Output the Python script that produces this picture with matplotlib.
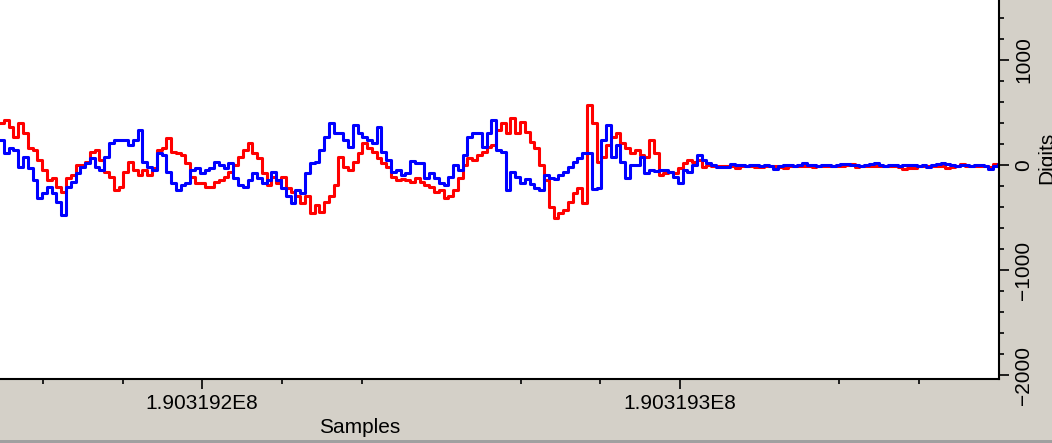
import matplotlib
matplotlib.use("Agg")
import matplotlib.pyplot as plt
import numpy as np
from matplotlib.ticker import FixedLocator, FixedFormatter
from matplotlib.patches import Rectangle

# ---- data ----
first_sample = 190319158

red = [
    397, 430, 365, 270, 397, 302, 160, 143, 48, -47,
    -142, -126, -205, -253, -126, -95, 0, 0, 32, 127,
    143, 48, -63, -110, -237, -205, -63, 32, -47, -95,
    -47, -95, -31, 143, 160, 254, 127, 111, 95, 16,
    -110, -174, -174, -205, -205, -158, -142, -110, -63, 0,
    80, 143, 207, 111, 64, -79, -190, -110, -174, -110,
    -221, -253, -300, -364, -300, -459, -380, -443, -348, -300,
    -190, 80, -15, -47, 32, 111,
    207, 160, 127, 64,
    16, -15, -110, -142, -136, -142, -158, -126, -158, -190,
    -205, -253, -237, -316, -300, -237, -126, 0, 64, 48,
    95, 127, 175, 191, 333, 397, 302, 444, 302, 412,
    317, 222, 160, 0, -142, -396, -507, -459, -427, -348,
    -269, -221, -364, 571, 397, 32, 80, 191, 270, 302,
    207, 160, 111, 143, 95, 80, 238, 111, -95, -79,
    -63, -79, -31, 16, 48, 32, 48,
    -16, 0, -10, -10, -5, -10, -10, -25, -10, -5,
    -10, -20, -20, -10, -5, -10, -15, -25, -10, -5,
    -10, -5, -10, -20, -10, -5, -5, -10, -10, -5,
    0, 10, -20, -10, -5, -10, -5, -10, -10, -5,
    -10, -20, -35, -25, -30, -10, -5, -10, -10, -5,
    -10, -30, -15, -5, 10, -5, -10, -10, -5, -10,
    -15, 5, -5,
]

blue = [
    238, 111, 160, 143, -15, 80, -31, -142, -316, -269,
    -205, -269, -348, -475, -205, -158, -79, -15, 16, 64,
    -15, -47, 80, 207, 238, 238, 238, 191, 238, 333,
    32, -15, -47, 111, 95, -63, -174, -237, -190, -174,
    -47, -31, -79, -47, -31, 32, 0, -31, 16, -126,
    -190, -205, -142, -79, -126, -174, -142, -63, -142, -221,
    -300, -364, -237, -269, -79, 16, 32, 143, 270, 397,
    302, 302, 238, 175, 381, 302,
    270, 238, 207, 365,
    127, 48, -63, -47, -95, -79, 42, 23, 16, -126,
    -79, -126, -174, -190, -117, 0, -47, 95, 270, 302,
    308, 175, 302, 428, 143, 127, -237, -63, -110, -174,
    -136, -180, -221, -237, -95, -126, -136, -95, -63, -15,
    32, 64, 111, 111, -231, -221, 238, 381, 80, 191,
    32, -126, 0, 0, 80, -79, -47, -53, -47, -47,
    -63, -117, -167, -47, -70, 0, 95,
    47, 16, 0, -16, -16, -16, 10, 0, 0, -5,
    0, 0, -5, 0, -10, -35, -5, 0, 0, -5,
    0, 15, 0, 0, -5, 0, 0, -5, 0, 5,
    10, 0, 0, -5, 0, 5, 15, 0, -5, 0,
    0, -5, 0, 0, 0, -5, 0, -15, 0, 5,
    15, 5, 0, -5, 0, 0, -5, 0, 0, -10,
    -35, -10, 5,
]

x_major = [190319200, 190319300]
x_major_labels = ["1.903192E8", "1.903193E8"]
x_minor = [190319166.67, 190319183.33, 190319216.67, 190319233.33,
           190319266.67, 190319283.33, 190319333.33, 190319350.0]
y_major = [-2000, -1000, 0, 1000]
y_minor = list(range(-2000, 1600, 200))
x_label = "Samples"
y_label = "Digits"

# ---- figure ----
plt.rcParams["font.family"] = ["Liberation Sans", "DejaVu Sans"]
W, H = 1052, 443
fig = plt.figure(figsize=(W / 100, H / 100), dpi=100, facecolor="#d4d0c8")
ax = fig.add_axes([0, 64 / H, 999 / W, 379 / H])
ax.set_facecolor("white")

samples_r = first_sample + np.arange(len(red))
samples_b = first_sample + np.arange(len(blue))
ax.plot(samples_r, red, color="#ff0000", lw=2.2, drawstyle="steps-mid")
ax.plot(samples_b, blue, color="#0000ff", lw=2.2, drawstyle="steps-mid")

ax.set_xlim(190319157.7, 190319366.7)
ax.set_ylim(-2038, 1571)

for s in ("left", "top"):
    ax.spines[s].set_visible(False)
for s in ("right", "bottom"):
    ax.spines[s].set_linewidth(1.5)
    ax.spines[s].set_color("black")

ax.yaxis.tick_right()
ax.xaxis.set_major_locator(FixedLocator(x_major))
ax.xaxis.set_major_formatter(FixedFormatter(x_major_labels))
ax.xaxis.set_minor_locator(FixedLocator(x_minor))
ax.yaxis.set_major_locator(FixedLocator(y_major))
ax.yaxis.set_minor_locator(FixedLocator(y_minor))

ax.tick_params(which="major", length=7, width=1.2, direction="out",
               labelsize=15, colors="black")
ax.tick_params(which="minor", length=3.5, width=1.2, direction="out")
ax.tick_params(axis="x", pad=4)
ax.tick_params(axis="y", labelrotation=90, pad=4)
for lbl in ax.get_yticklabels():
    lbl.set_va("center")

fig.text(360 / W, (H - 433) / H, x_label, ha="center", va="baseline",
         fontsize=15)
fig.text(1037 / W, (H - 158) / H, y_label, ha="left", va="center",
         rotation=90, fontsize=15)

fig.patches.append(Rectangle((0, 0), 1, 3 / H, transform=fig.transFigure,
                             facecolor="#a0a0a0", edgecolor="none"))

fig.savefig("out.png", dpi=100, facecolor=fig.get_facecolor())
